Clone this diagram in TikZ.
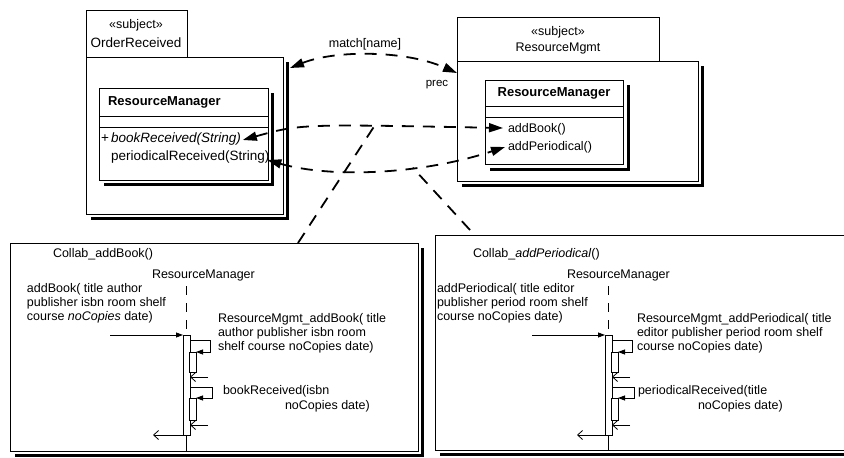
\documentclass[tikz,border=0pt]{standalone}
\usepackage{fontspec}
\setmainfont{Liberation Sans}
\usetikzlibrary{arrows.meta,calc}
\begin{document}
\begin{tikzpicture}[x=1pt,y=-1pt,
  every node/.style={inner sep=0pt,outer sep=0pt,font=\fontsize{12.5}{14}\selectfont},
  box/.style={draw,line width=0.8pt,fill=white,anchor=north west},
  shadowline/.style={draw=black,line width=3pt,line cap=rect,line join=miter},
  conn/.style={line width=1.8pt,dash pattern=on 12pt off 9pt},
  bothtips/.style={{Triangle[length=14pt,width=9pt]}-{Triangle[length=14pt,width=9pt]}},
  msg/.style={line width=0.8pt,-{Triangle[length=7pt,width=5pt]}},
  ret/.style={line width=0.8pt,-{Straight Barb[length=5pt,width=9pt]}},
  lifedash/.style={line width=0.9pt,dash pattern=on 9pt off 8pt},
  boldtxt/.style={font=\fontsize{13}{15}\selectfont\bfseries},
  bigtxt/.style={font=\fontsize{13.5}{15}\selectfont},
  stereo/.style={font=\fontsize{12.5}{14}\selectfont},
  ml/.style={align=left,anchor=north west},
  lw/.style={anchor=west},
]
\useasboundingbox (0,0) rectangle (844,458);
\fill[white] (0,0) rectangle (844,458);
\begin{scope}
\clip (0,0) rectangle (844,458);

% ---------------- left package (OrderReceived)
\node[box,minimum width=101pt,minimum height=47pt] (ltab) at (86,10) {};
\node[box,minimum width=197pt,minimum height=157pt] (lbody) at (86,57) {};
\draw[shadowline] ($(lbody.north east)+(4,6)$) -- ($(lbody.south east)+(4,4)$) -- ($(lbody.south west)+(6,4)$);
\node[stereo] (lst) at (136,25) {«subject»};
\node[bigtxt] (lname) at (136,43) {OrderReceived};
\node[box,minimum width=169pt,minimum height=92pt] (lcls) at (99,88) {};
\draw[shadowline] ($(lcls.north east)+(4,6)$) -- ($(lcls.south east)+(4,4)$) -- ($(lcls.south west)+(6,4)$);
\draw[line width=0.8pt] (99,116) -- (268,116);
\draw[line width=0.8pt] (99,127) -- (268,127);
\node[boldtxt,lw] (lclsname) at (108,102) {ResourceManager};
\node[lw,bigtxt] (lplus) at (101,139) {+};
\node[lw,bigtxt] (lop1) at (111,139) {\itshape bookReceived(String)};
\node[lw,bigtxt] (lop2) at (111,157) {periodicalReceived(String)};

% ---------------- right package (ResourceMgmt)
\node[box,minimum width=202pt,minimum height=44pt] (rtab) at (457,17) {};
\node[box,minimum width=241pt,minimum height=120pt] (rbody) at (457,61) {};
\draw[shadowline] ($(rbody.north east)+(4,6)$) -- ($(rbody.south east)+(4,4)$) -- ($(rbody.south west)+(6,4)$);
\node[stereo] (rst) at (558,32) {«subject»};
\node (rname) at (558,48) {ResourceMgmt};
\node[box,minimum width=138pt,minimum height=84pt] (rcls) at (485,80) {};
\draw[shadowline] ($(rcls.north east)+(5,6)$) -- ($(rcls.south east)+(5,5)$) -- ($(rcls.south west)+(6,5)$);
\draw[line width=0.8pt] (485,106) -- (623,106);
\draw[line width=0.8pt] (485,117) -- (623,117);
\node[boldtxt] (rclsname) at (554,93) {ResourceManager};
\node[lw] (rop1) at (508,129) {addBook()};
\node[lw] (rop2) at (508,147) {addPeriodical()};

% ---------------- composition relationships
\coordinate (mA) at ($(lbody.north east)+(7,11)$);
\coordinate (mB) at ($(rbody.north west)+(0,12)$);
\draw[conn,bothtips] (mA) .. controls (335,50) and (405,50) .. (mB);
\node (matchlbl) at (365,44) {match[name]};
\node[font=\fontsize{11.5}{13}\selectfont] (preclbl) at (437,85) {prec};

\coordinate (opBR) at ($(lop1.east)+(2,1)$);
\coordinate (opAB) at ($(rop1.west)+(-5,-1)$);
\draw[conn,bothtips] (opBR) .. controls (300,124) .. coordinate[pos=0.72] (j1) (opAB);

\coordinate (opPR) at ($(lop2.east)+(-2,3)$);
\coordinate (opAP) at ($(rop2.west)+(-3,0)$);
\draw[conn,bothtips] (opPR) .. controls (330,178) and (420,175) .. coordinate[pos=0.64] (j2) (opAP);

% ---------------- left collaboration frame
\node[box,minimum width=408pt,minimum height=208pt] (lframe) at (10,243) {};
\draw[shadowline] ($(lframe.north east)+(4,6)$) -- ($(lframe.south east)+(4,4)$) -- ($(lframe.south west)+(6,4)$);
\node[lw] (lcollab) at (53,254) {Collab\_addBook()};
\node[lw] (lrm) at (152,275) {ResourceManager};
\node[ml] (lmsg) at (27,283) {addBook( title author\\publisher isbn room shelf\\course \textit{noCopies} date)};
\node[ml] (lself1) at (218,313) {ResourceMgmt\_addBook( title\\author publisher isbn room\\shelf course noCopies date)};
\node[lw] (lself2a) at (223,391) {bookReceived(isbn};
\node[lw] (lself2b) at (285,406) {noCopies date)};

\node[box,minimum width=7pt,minimum height=100pt] (lact) at (183,335) {};
\node[box,minimum width=7pt,minimum height=20pt] (lsub1) at (189,352) {};
\node[box,minimum width=7pt,minimum height=22pt] (lsub2) at (189,398) {};
\coordinate (llt) at (186.5,286);
\draw[lifedash] (llt) -- (lact.north);
\draw[line width=0.8pt] (lact.south) -- (lact.south |- lframe.south);
\coordinate (lin) at (110,335);
\draw[msg] (lin) -- (lact.north west);
\draw[msg] ($(lact.north east)+(0,5)$) -- (210,340) -- (210,352) -- (lsub1.north east);
\coordinate (lr1) at (208,377);
\draw[ret] (lr1) -- (lr1 -| lact.east);
\draw[msg] (190,387) -- (212,387) -- (212,398) -- (lsub2.north east);
\coordinate (lr2) at (208,425);
\draw[ret] (lr2) -- (lr2 -| lact.east);
\coordinate (lout) at (153,435);
\draw[ret] (lact.south west) -- (lout);

% ---------------- right collaboration frame
\node[box,minimum width=420pt,minimum height=215pt] (rframe) at (435,235) {};
\draw[shadowline] ($(rframe.south east)+(4,4)$) -- ($(rframe.south west)+(6,4)$);
\node[lw] (rcollab) at (473,254) {Collab\_\textit{addPeriodical}()};
\node[lw] (rrm) at (567,275) {ResourceManager};
\node[ml] (rmsg) at (437,283) {addPeriodical( title editor\\publisher period room shelf\\course noCopies date)};
\node[ml] (rself1) at (637,313) {ResourceMgmt\_addPeriodical( title\\editor publisher period room shelf\\course noCopies date)};
\node[lw] (rself2a) at (638,391) {periodicalReceived(title};
\node[lw] (rself2b) at (698,406) {noCopies date)};

\node[box,minimum width=7pt,minimum height=100pt] (ract) at (605,335) {};
\node[box,minimum width=7pt,minimum height=20pt] (rsub1) at (611,352) {};
\node[box,minimum width=7pt,minimum height=22pt] (rsub2) at (611,398) {};
\coordinate (rlt) at (608.5,286);
\draw[lifedash] (rlt) -- (ract.north);
\draw[line width=0.8pt] (ract.south) -- (ract.south |- rframe.south);
\coordinate (rin) at (532,335);
\draw[msg] (rin) -- (ract.north west);
\draw[msg] ($(ract.north east)+(0,5)$) -- (632,340) -- (632,352) -- (rsub1.north east);
\coordinate (rr1) at (630,377);
\draw[ret] (rr1) -- (rr1 -| ract.east);
\draw[msg] (612,387) -- (634,387) -- (634,398) -- (rsub2.north east);
\coordinate (rr2) at (630,425);
\draw[ret] (rr2) -- (rr2 -| ract.east);
\coordinate (rout) at (577,435);
\draw[ret] (ract.south west) -- (rout);

% ---------------- dependencies from collaborations to bindings
\draw[conn] ($(lframe.north west)+(288,0)$) -- (j1);
\draw[conn] ($(rframe.north west)+(35,-5)$) -- (j2);
\end{scope}
\end{tikzpicture}
\end{document}
